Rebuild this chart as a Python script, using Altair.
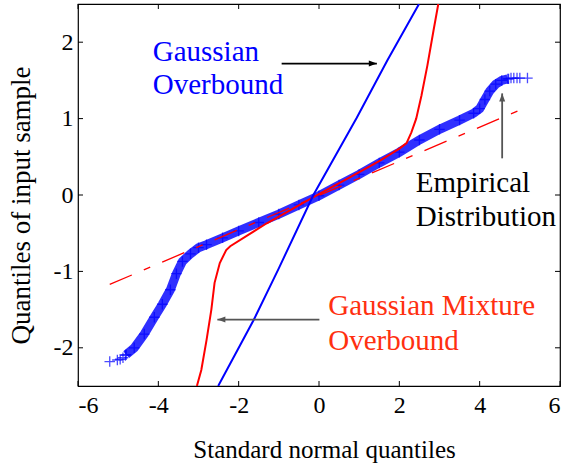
import altair as alt
import pandas as pd

# ---- data ----
emp_x = [-4.8, -4.6, -4.35, -4.1, -3.9, -3.7, -3.55, -3.4, -3.2, -3.0, -2.8, -2.4, -2.0, -1.5, -1.0,
         -0.5, 0.0, 0.5, 1.0, 1.5, 2.0, 2.5, 3.0, 3.5, 3.85, 4.0, 4.13, 4.25, 4.4, 4.55, 4.7]
emp_y = [-2.09, -2.0, -1.82, -1.6, -1.43, -1.24, -1.03, -0.87, -0.77, -0.69, -0.65, -0.56, -0.47, -0.36, -0.25,
         -0.13, -0.01, 0.13, 0.27, 0.42, 0.56, 0.72, 0.86, 0.98, 1.07, 1.13, 1.25, 1.36, 1.45, 1.5, 1.52]
tail_x = [-5.21, -5.02, -4.95, -4.88, -4.82, 4.72, 4.78, 4.85, 4.93, 5.0, 5.19]
tail_y = [-2.18, -2.16, -2.15, -2.13, -2.1, 1.52, 1.53, 1.53, 1.53, 1.53, 1.53]

ref_x = [-5.21, 5.17]
ref_y = [-1.17, 1.15]

gm_x = [-3.04, -2.93, -2.80, -2.68, -2.60, -2.47, -2.31, -2.21, -1.3, -0.15, 0.8, 1.52, 2.01, 2.18,
        2.3, 2.42, 2.55, 2.7, 2.85, 2.97]
gm_y = [-2.5, -2.29, -1.90, -1.50, -1.15, -0.89, -0.72, -0.67, -0.37, -0.03, 0.24, 0.45, 0.61, 0.68,
        0.82, 1.0, 1.3, 1.7, 2.15, 2.5]

g_x = [-2.51, -1.62, -1.01, -0.14, 0.94, 1.7, 2.49]
g_y = [-2.5, -1.63, -0.97, 0.0, 1.01, 1.76, 2.5]

x_ticks = [-6, -4, -2, 0, 2, 4, 6]
y_ticks = [-2, -1, 0, 1, 2]

# annotations
ann_text = ["Gaussian", "Overbound", "Empirical", "Distribution", "Gaussian Mixture", "Overbound"]
ann_x = [-4.14, -4.14, 2.41, 2.41, 0.23, 0.23]
ann_y = [1.75, 1.32, 0.04, -0.40, -1.57, -2.03]
ann_color = ["#0000ff", "#0000ff", "#000000", "#000000", "#ff3010", "#ff3010"]

arr_x1 = [-0.93, 4.56, 0.01]
arr_y1 = [1.72, 0.48, -1.63]
arr_x2 = [1.44, 4.56, -2.53]
arr_y2 = [1.72, 1.33, -1.63]
arr_angle = [0, 270, 180]
arr_color = ["#000000", "#555555", "#555555"]

W, H = 482, 382
FONT = "Liberation Serif"

xs = alt.Scale(domain=[-6, 6], nice=False, zero=False)
ys = alt.Scale(domain=[-2.5, 2.5], nice=False, zero=False)

emp = pd.DataFrame({"x": emp_x, "y": emp_y})
tails = pd.DataFrame({"x": tail_x, "y": tail_y})
ref = pd.DataFrame({"x": ref_x, "y": ref_y})
gm = pd.DataFrame({"x": gm_x, "y": gm_y, "o": list(range(len(gm_x)))})
g = pd.DataFrame({"x": g_x, "y": g_y, "o": list(range(len(g_x)))})
ann = pd.DataFrame({"t": ann_text, "x": ann_x, "y": ann_y, "c": ann_color})
arr = pd.DataFrame({"x": arr_x1, "y": arr_y1, "x2": arr_x2, "y2": arr_y2, "a": arr_angle, "c": arr_color})
xt = pd.DataFrame({"t": x_ticks})
yt = pd.DataFrame({"t": y_ticks})

X = alt.X("x:Q", scale=xs,
          axis=alt.Axis(values=x_ticks, title="Standard normal quantiles", grid=False, ticks=False, domain=False,
                        labelFont=FONT, labelFontSize=24, labelColor="black", labelPadding=7,
                        labelExpr="datum.value + ''",
                        titleFont=FONT, titleFontSize=25, titleFontWeight="normal", titleColor="black",
                        titleX=246, titleY=71, titleBaseline="alphabetic", titleAlign="center"))
Y = alt.Y("y:Q", scale=ys,
          axis=alt.Axis(values=y_ticks, title="Quantiles of input sample", grid=False, ticks=False, domain=False,
                        labelFont=FONT, labelFontSize=24, labelColor="black", labelPadding=5,
                        labelExpr="datum.value + ''",
                        titleFont=FONT, titleFontSize=27, titleFontWeight="normal", titleColor="black",
                        titleX=-49, titleY=201, titleAngle=270, titleBaseline="alphabetic", titleAlign="center"))

plus = "M-1,0L1,0M0,-1L0,1"

band = alt.Chart(emp).mark_line(color="#0a0aff", strokeWidth=9, opacity=0.85).encode(x=X, y=Y)
band_pts = alt.Chart(emp).mark_point(shape=plus, size=110, color="#0000ff", strokeWidth=1.3).encode(
    x=alt.X("x:Q", scale=xs), y=alt.Y("y:Q", scale=ys))
tail_pts = alt.Chart(tails).mark_point(shape=plus, size=110, color="#0000ff", strokeWidth=1.3).encode(
    x=alt.X("x:Q", scale=xs), y=alt.Y("y:Q", scale=ys))

ref_line = alt.Chart(ref).mark_line(color="#ff0000", strokeWidth=1.3, strokeDash=[24, 13, 7, 13]).encode(
    x=alt.X("x:Q", scale=xs), y=alt.Y("y:Q", scale=ys))
gm_line = alt.Chart(gm).mark_line(color="#ff0000", strokeWidth=2, clip=True).encode(
    x=alt.X("x:Q", scale=xs), y=alt.Y("y:Q", scale=ys), order="o:Q")
g_line = alt.Chart(g).mark_line(color="#0000ff", strokeWidth=2, clip=True).encode(
    x=alt.X("x:Q", scale=xs), y=alt.Y("y:Q", scale=ys), order="o:Q")

arrows = alt.Chart(arr).mark_rule(strokeWidth=1.8).encode(
    x=alt.X("x:Q", scale=xs), y=alt.Y("y:Q", scale=ys), x2="x2:Q", y2="y2:Q",
    color=alt.Color("c:N", scale=None))
heads = alt.Chart(arr).mark_point(shape="M0,0L-2,-0.75L-2,0.75Z", size=64, filled=True, opacity=1).encode(
    x=alt.X("x2:Q", scale=xs), y=alt.Y("y2:Q", scale=ys), angle=alt.Angle("a:Q", scale=None),
    color=alt.Color("c:N", scale=None))

texts = alt.Chart(ann).mark_text(font=FONT, fontSize=29, align="left", baseline="alphabetic").encode(
    x=alt.X("x:Q", scale=xs), y=alt.Y("y:Q", scale=ys), text="t:N", color=alt.Color("c:N", scale=None))

tick_style = dict(color="black", strokeWidth=1)
xb = alt.Chart(xt).mark_rule(**tick_style).encode(x=alt.X("t:Q", scale=xs), y=alt.value(H), y2=alt.value(H - 5))
xtop = alt.Chart(xt).mark_rule(**tick_style).encode(x=alt.X("t:Q", scale=xs), y=alt.value(0), y2=alt.value(5))
yl = alt.Chart(yt).mark_rule(**tick_style).encode(y=alt.Y("t:Q", scale=ys), x=alt.value(0), x2=alt.value(5))
yr = alt.Chart(yt).mark_rule(**tick_style).encode(y=alt.Y("t:Q", scale=ys), x=alt.value(W), x2=alt.value(W - 5))

chart = alt.layer(band, band_pts, tail_pts, ref_line, gm_line, g_line, arrows, heads, texts,
                  xb, xtop, yl, yr).properties(
    width=W, height=H,
    autosize=alt.AutoSizeParams(type="none"),
    padding={"left": 78, "top": 4, "right": 14, "bottom": 80},
    background="white",
).configure_view(stroke="black", strokeWidth=1.2)

chart.save("out.html", embed_options={"renderer": "svg", "actions": False})
